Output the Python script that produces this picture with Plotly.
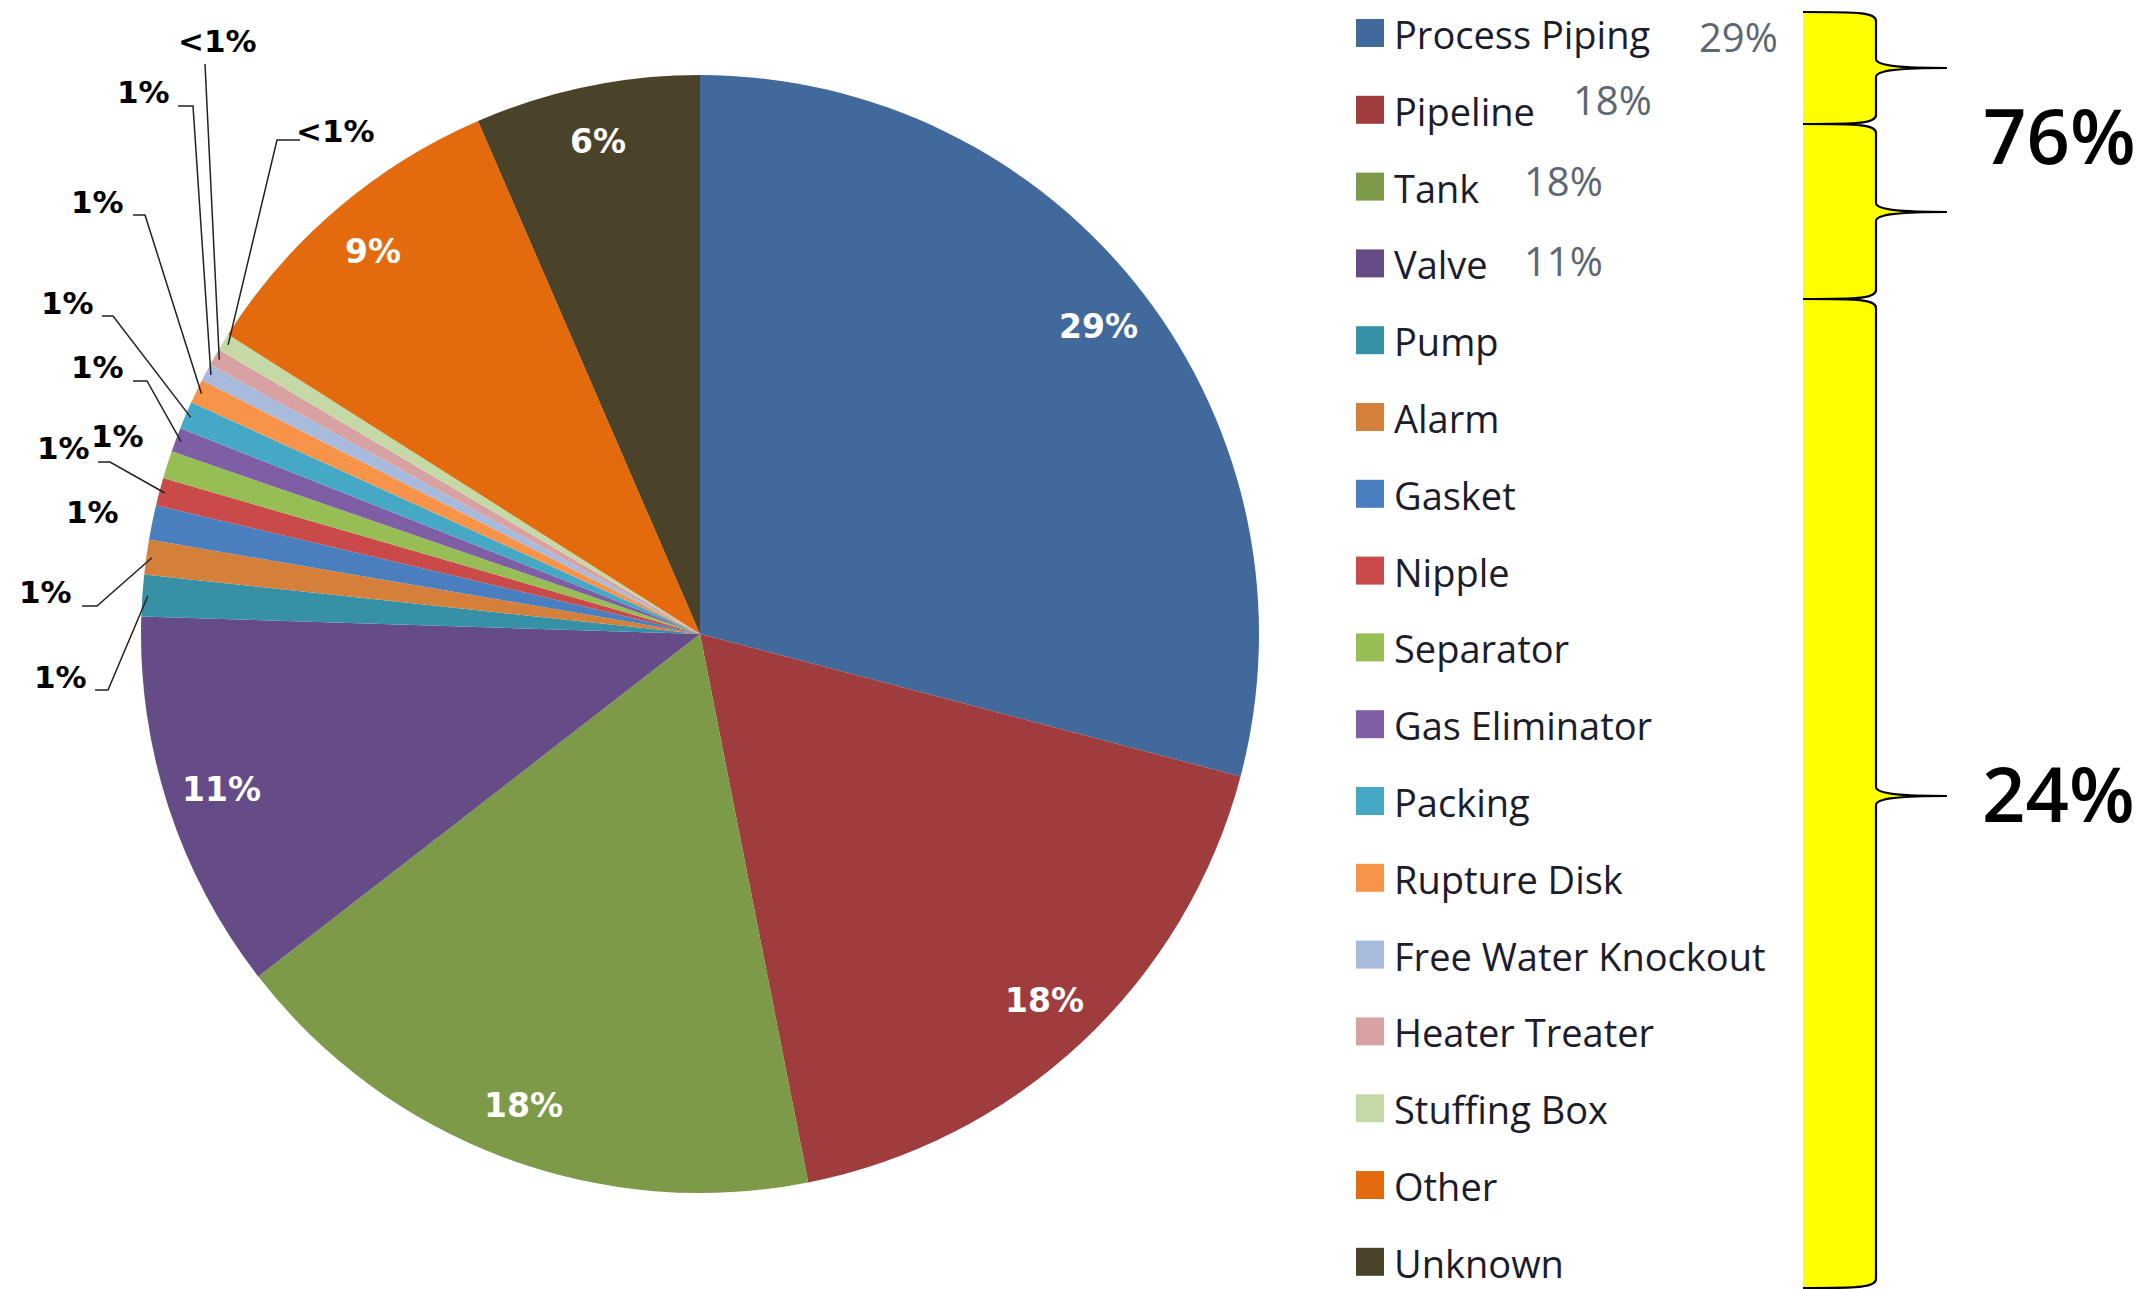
import math
import plotly.graph_objects as go

# ---------------- data ----------------
categories = ["Process Piping", "Pipeline", "Tank", "Valve", "Pump", "Alarm", "Gasket",
              "Nipple", "Separator", "Gas Eliminator", "Packing", "Rupture Disk",
              "Free Water Knockout", "Heater Treater", "Stuffing Box", "Other", "Unknown"]
values = [29.1, 17.8, 17.6, 11.0, 1.2, 1.0, 1.0, 0.8, 0.8, 0.7, 0.8, 0.7, 0.5, 0.5, 0.5, 9.5, 6.5]
slice_labels = ["29%", "18%", "18%", "11%", "1%", "1%", "1%", "1%", "1%", "1%", "1%", "1%",
                "1%", "<1%", "<1%", "9%", "6%"]
legend_pct = ["29%", "18%", "18%", "11%"]
group_labels = ["76%", "24%"]

colors = ["#41699C", "#9F3D3E", "#7D9A48", "#654C86", "#3690A6", "#D5803A", "#4A7FBF",
          "#C94A48", "#97BD55", "#7E5FA6", "#45A9C6", "#F7944A", "#A9BBDD", "#D8A2A3",
          "#C5D9A7", "#E36B0E", "#4A4229"]

# ---------------- layout helpers ----------------
W, H = 2154, 1289
CX, CY, R = 700, 634, 559          # pie centre / radius in pixels


def P(px, py):
    return px / W, 1 - py / H


fig = go.Figure(go.Pie(
    labels=categories, values=values, sort=False, direction="clockwise", rotation=0,
    marker=dict(colors=colors, line=dict(width=0)),
    textinfo="none", hoverinfo="label+percent",
    domain=dict(x=[(CX - R) / W, (CX + R) / W], y=[(H - CY - R) / H, (H - CY + R) / H]),
))

total = sum(values)
cum = []
acc = 0.0
for v in values:
    cum.append((acc, acc + v))
    acc += v


def mid_angle(i):
    a0, a1 = cum[i]
    return (a0 + a1) / 2 / total * 2 * math.pi


def pie_point(i, frac):
    t = mid_angle(i)
    return CX + frac * R * math.sin(t), CY - frac * R * math.cos(t)


annotations = []
shapes = []

# big in-slice labels
big_idx = [0, 1, 2, 3, 15, 16]
for i in big_idx:
    px, py = pie_point(i, 0.9)
    x, y = P(px, py)
    annotations.append(dict(text="<b>" + slice_labels[i] + "</b>", x=x, y=y, xref="paper", yref="paper",
                            showarrow=False, xanchor="center", yanchor="middle",
                            font=dict(family="DejaVu Sans", size=33, color="white")))

# small outside labels with leader lines: (label centre, line start, knee)
small_layout = {
    4: ((60, 677), (95, 690), (108, 690)),
    5: ((45, 592), (82, 606), (97, 606)),
    6: ((92, 512), None, None),
    7: ((63, 448), (98, 462), (110, 462)),
    8: ((117, 436), None, None),
    9: ((97, 367), (133, 381), (147, 381)),
    10: ((67, 303), (102, 316), (113, 316)),
    11: ((97, 202), (133, 215), (145, 215)),
    12: ((143, 92), (178, 106), (193, 106)),
    13: ((217, 41), (205, 64), (205, 64)),
    14: ((335, 131), (300, 140), (277, 140)),
}
for i, (lab, start, knee) in small_layout.items():
    x, y = P(*lab)
    annotations.append(dict(text="<b>" + slice_labels[i] + "</b>", x=x, y=y, xref="paper", yref="paper",
                            showarrow=False, xanchor="center", yanchor="middle",
                            font=dict(family="DejaVu Sans", size=31, color="black")))
    if start is not None:
        ex, ey = pie_point(i, 0.99)
        pts = [P(*start), P(*knee), P(ex, ey)]
        path = "M {:.5f},{:.5f} L {:.5f},{:.5f} L {:.5f},{:.5f}".format(*pts[0], *pts[1], *pts[2])
        shapes.append(dict(type="path", path=path, xref="paper", yref="paper",
                           line=dict(color="#222222", width=1.5)))

# manual legend
LEG_X, LEG_Y0, LEG_DY, SQ = 1356, 33, 76.8, 28
for i, name in enumerate(categories):
    ry = LEG_Y0 + i * LEG_DY
    x0, y0 = P(LEG_X, ry - SQ / 2)
    x1, y1 = P(LEG_X + SQ, ry + SQ / 2)
    shapes.append(dict(type="rect", xref="paper", yref="paper", x0=x0, x1=x1, y0=y1, y1=y0,
                       fillcolor=colors[i], line=dict(width=0)))
    tx, ty = P(LEG_X + 37, ry + 1)
    annotations.append(dict(text=name, x=tx, y=ty, xref="paper", yref="paper", showarrow=False,
                            xanchor="left", yanchor="middle", borderpad=0,
                            font=dict(family="Open Sans", size=38, color="#1c1c2a")))

pct_pos = [(1697, 36), (1571, 99), (1522, 180), (1522, 260)]
for txt, (px, py) in zip(legend_pct, pct_pos):
    x, y = P(px, py)
    annotations.append(dict(text=txt, x=x, y=y, xref="paper", yref="paper", showarrow=False,
                            xanchor="left", yanchor="middle",
                            font=dict(family="Open Sans", size=40, color="#5d6772")))

# braces
X0, X1, X2 = 1803, 1876, 1947


def brace(ytop, ytip, ybot, c=9, t=9, closed=True):
    def p(px, py):
        x, y = P(px, py)
        return "{:.5f},{:.5f}".format(x, y)
    d = "M " + p(X0, ytop)
    d += " C " + p(X0 + 0.8 * (X1 - X0), ytop) + " " + p(X1, ytop + 0.1 * c) + " " + p(X1, ytop + c)
    d += " L " + p(X1, ytip - t)
    d += " C " + p(X1, ytip - 0.3 * t) + " " + p(X1 + 0.3 * (X2 - X1), ytip) + " " + p(X2, ytip)
    d += " C " + p(X1 + 0.3 * (X2 - X1), ytip) + " " + p(X1, ytip + 0.3 * t) + " " + p(X1, ytip + t)
    d += " L " + p(X1, ybot - c)
    d += " C " + p(X1, ybot - 0.1 * c) + " " + p(X0 + 0.8 * (X1 - X0), ybot) + " " + p(X0, ybot)
    if closed:
        d += " Z"
    return d


brace_spans = [(12, 68, 124), (124, 212, 299), (299, 796, 1288)]
for ytop, ytip, ybot in brace_spans:
    shapes.append(dict(type="path", path=brace(ytop, ytip, ybot), xref="paper", yref="paper",
                       fillcolor="#FFFF00", line=dict(width=0), layer="below"))
for ytop, ytip, ybot in brace_spans:
    shapes.append(dict(type="path", path=brace(ytop, ytip, ybot, closed=False), xref="paper",
                       yref="paper", fillcolor="rgba(0,0,0,0)", line=dict(color="black", width=2.2)))

for txt, (px, py) in zip(group_labels, [(2059, 135), (2058, 792)]):
    x, y = P(px, py)
    annotations.append(dict(text=txt, x=x, y=y, xref="paper", yref="paper", showarrow=False,
                            xanchor="center", yanchor="middle",
                            font=dict(family="Open Sans", size=76, color="black", weight=600)))

fig.update_layout(width=W, height=H, margin=dict(l=0, r=0, t=0, b=0), showlegend=False,
                  paper_bgcolor="white", plot_bgcolor="white",
                  annotations=annotations, shapes=shapes)

fig.write_html("out.html")
